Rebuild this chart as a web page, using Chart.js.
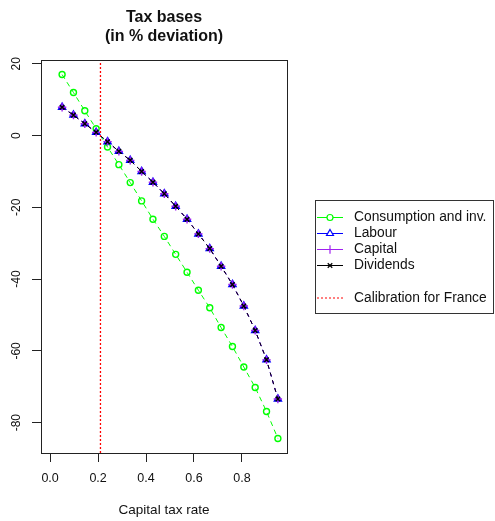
<!DOCTYPE html>
<html>
<head>
<meta charset="utf-8">
<script src="https://cdn.jsdelivr.net/npm/chart.js@4.4.1/dist/chart.umd.min.js"></script>
<style>
  html, body { margin: 0; padding: 0; background: #fff; }
  #wrap { width: 495px; height: 521px; }
</style>
</head>
<body>
<div id="wrap"><canvas id="chart" width="495" height="521"></canvas></div>
<script>
// capital tax rate (x) and tax base deviations in %
const taxRate = [0.05, 0.0974, 0.1447, 0.1921, 0.2395, 0.2868, 0.3342, 0.3816, 0.4289, 0.4763,
  0.5237, 0.5711, 0.6184, 0.6658, 0.7132, 0.7605, 0.8079, 0.8553, 0.9026, 0.95];
const consumption = [17.0, 12.0, 6.9, 1.9, -3.2, -8.1, -13.1, -18.2, -23.3, -28.1,
  -33.1, -38.1, -43.1, -48.0, -53.5, -58.8, -64.5, -70.2, -76.9, -84.4];
const labour = [7.9, 5.7, 3.3, 0.9, -1.7, -4.4, -6.9, -10.0, -13.0, -16.2,
  -19.7, -23.3, -27.4, -31.5, -36.4, -41.5, -47.5, -54.3, -62.5, -73.4];
const capital = [7.9, 5.7, 3.3, 0.9, -1.7, -4.4, -6.9, -10.0, -13.0, -16.2,
  -19.7, -23.3, -27.4, -31.5, -36.4, -41.5, -47.5, -54.3, -62.5, -73.4];
const dividends = [7.9, 5.7, 3.3, 0.9, -1.7, -4.4, -6.9, -10.0, -13.0, -16.2,
  -19.7, -23.3, -27.4, -31.5, -36.4, -41.5, -47.5, -54.3, -62.5, -73.4];
const calibrationRate = 0.21;
const seriesNames = ['Consumption and inv.', 'Labour', 'Capital', 'Dividends', 'Calibration for France'];

// axis limits (R style, 4% extension)
const xLim = [-0.038, 0.988];
const yLim = [-88.46, 21.06];

Chart.defaults.font.family = '"Liberation Sans", Arial, sans-serif';
Chart.defaults.color = '#111';

const toPoints = (ys) => ys.map((y, i) => ({ x: taxRate[i], y: y }));

// box around the plot region, like R's box()
const plotBox = {
  id: 'plotBox',
  afterDraw(chart) {
    const { ctx, chartArea: a } = chart;
    ctx.save();
    ctx.strokeStyle = '#222';
    ctx.lineWidth = 1;
    ctx.strokeRect(Math.round(a.left) + 0.5, Math.round(a.top) + 0.5,
      Math.round(a.right - a.left), Math.round(a.bottom - a.top));
    ctx.restore();
  },
};

// legend in the right margin with line + marker samples
const rLegend = {
  id: 'rLegend',
  afterDraw(chart) {
    const ctx = chart.ctx;
    const rows = [217.5, 233.5, 249.5, 265.5, 298];
    ctx.save();
    ctx.strokeStyle = '#333';
    ctx.lineWidth = 1;
    ctx.strokeRect(315.5, 200.5, 178, 113);
    ctx.font = '13.8px "Liberation Sans", Arial, sans-serif';
    ctx.textBaseline = 'middle';
    chart.data.datasets.forEach((ds, i) => {
      const y = rows[i];
      ctx.strokeStyle = ds.borderColor;
      ctx.lineWidth = 1;
      ctx.setLineDash(i === 4 ? [2, 2] : []);
      ctx.beginPath();
      ctx.moveTo(317, y);
      ctx.lineTo(343, y);
      ctx.stroke();
      ctx.setLineDash([]);
      if (ds.pointRadius > 0) {
        ctx.fillStyle = '#fff';
        ctx.lineWidth = 1.2;
        Chart.helpers.drawPoint(ctx, {
          pointStyle: ds.pointStyle, radius: ds.pointRadius, borderWidth: 1.2, rotation: 0,
        }, 330, y);
      }
      ctx.fillStyle = '#111';
      ctx.fillText(ds.label, 354, y);
    });
    ctx.restore();
  },
};

new Chart(document.getElementById('chart'), {
  type: 'line',
  data: {
    datasets: [
      {
        label: seriesNames[0], data: toPoints(consumption),
        borderColor: '#00ff00', backgroundColor: 'rgba(0,0,0,0)', borderWidth: 1,
        borderDash: [5, 4], pointStyle: 'circle', pointRadius: 3,
        pointBorderColor: '#00ff00', pointBackgroundColor: 'rgba(0,0,0,0)', pointBorderWidth: 1.4,
        order: 4,
      },
      {
        label: seriesNames[1], data: toPoints(labour),
        borderColor: '#0000ff', backgroundColor: 'rgba(0,0,0,0)', borderWidth: 1,
        borderDash: [4, 4], pointStyle: 'triangle', pointRadius: 4,
        pointBorderColor: '#0000ff', pointBackgroundColor: 'rgba(0,0,0,0)', pointBorderWidth: 1.5,
        order: 3,
      },
      {
        label: seriesNames[2], data: toPoints(capital),
        borderColor: '#a020f0', backgroundColor: 'rgba(0,0,0,0)', borderWidth: 1,
        borderDash: [4, 4], pointStyle: 'cross', pointRadius: 4.2,
        pointBorderColor: '#a020f0', pointBackgroundColor: 'rgba(0,0,0,0)', pointBorderWidth: 1.4,
        order: 2,
      },
      {
        label: seriesNames[3], data: toPoints(dividends),
        borderColor: '#000000', backgroundColor: 'rgba(0,0,0,0)', borderWidth: 1,
        borderDash: [4, 4], pointStyle: 'crossRot', pointRadius: 3.2,
        pointBorderColor: '#000000', pointBackgroundColor: 'rgba(0,0,0,0)', pointBorderWidth: 1.4,
        order: 1,
      },
      {
        label: seriesNames[4],
        data: [{ x: calibrationRate, y: yLim[0] }, { x: calibrationRate, y: yLim[1] }],
        borderColor: '#ff0000', backgroundColor: 'rgba(0,0,0,0)', borderWidth: 1.3,
        borderDash: [2, 2], pointRadius: 0, order: 0,
      },
    ],
  },
  options: {
    responsive: false,
    animation: false,
    events: [],
    layout: { padding: { left: 0, right: 208, top: 0, bottom: 0 } },
    plugins: {
      legend: { display: false },
      tooltip: { enabled: false },
      title: {
        display: true,
        text: ['Tax bases', '(in % deviation)'],
        fullSize: false,
        color: '#111',
        font: { size: 16, weight: 'bold', lineHeight: 1.2 },
        padding: { top: 8, bottom: 13.6 },
      },
    },
    scales: {
      x: {
        type: 'linear',
        min: xLim[0], max: xLim[1],
        border: { display: false },
        grid: { drawOnChartArea: false, drawTicks: true, tickLength: 9, tickColor: '#222' },
        ticks: {
          stepSize: 0.2, includeBounds: false, padding: 9, maxRotation: 0,
          font: { size: 12.5 },
          callback: (v) => v.toFixed(1),
        },
        title: {
          display: true, text: 'Capital tax rate',
          font: { size: 13.5 }, padding: { top: 0, bottom: 2.5 },
        },
        afterFit(scale) { scale.height = 68; },
      },
      y: {
        type: 'linear',
        min: yLim[0], max: yLim[1],
        border: { display: false },
        grid: { drawOnChartArea: false, drawTicks: true, tickLength: 9, tickColor: '#222' },
        ticks: {
          stepSize: 20, includeBounds: false, padding: 7,
          minRotation: 90, maxRotation: 90, crossAlign: 'center',
          font: { size: 12 },
          callback: (v) => String(v),
        },
        afterFit(scale) { scale.width = 41; },
      },
    },
  },
  plugins: [plotBox, rLegend],
});
</script>
</body>
</html>
